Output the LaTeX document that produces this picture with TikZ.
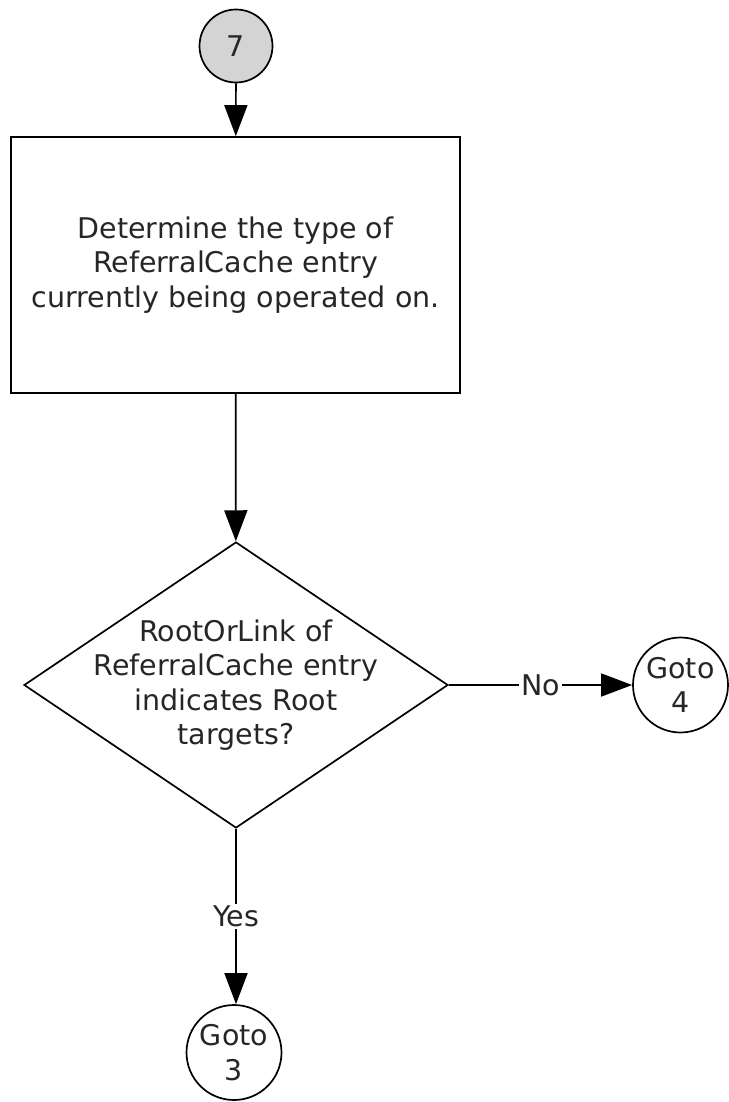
\documentclass[tikz,border=0pt]{standalone}
\usepackage{fontspec}
\setmainfont{DejaVu Sans}
\usepackage{tikz}
\usetikzlibrary{shapes.geometric}
\usetikzlibrary{arrows.meta}

\tikzset{
    flowline/.style = {line width=1.7pt, -{Triangle[length=31pt,width=23pt]}},
    procbox/.style = {draw, line width=1.7pt, minimum width=449pt, minimum height=256pt},
    decide/.style = {draw, diamond, line width=1.7pt, minimum width=424pt, minimum height=286pt, inner sep=0pt},
    connector/.style = {draw, circle, line width=1.7pt, inner sep=0pt},
    flowtext/.style = {align=center, text=black!85, font=\fontsize{28.5}{34.5}\selectfont},
    lbl/.style = {fill=white, inner sep=2pt, text=black!85, font=\fontsize{28.5}{34.5}\selectfont}
}

\begin{document}
\begin{tikzpicture}[x=1pt, y=-1pt]
    \useasboundingbox (0,0) rectangle (728,1102);
    % start marker
    \node [connector, flowtext, fill=black!17, minimum size=73pt] (start) at (236,46) {7};
    \node [procbox] (determine) at (235.5,265) {};
    \node [flowtext] at (determine) {Determine the type of\\ReferralCache entry\\currently being operated on.};
    \node [decide] (isroot) at (236,685) {};
    \node [flowtext] at (isroot) {RootOrLink of\\ReferralCache entry\\indicates Root\\targets?};
    % off-page connectors
    \node [connector, flowtext, minimum size=95pt] (goto4) at (680.5,685) {Goto\\4};
    \node [connector, flowtext, minimum size=95pt] (goto3) at (234,1052.5) {Goto\\3};

    \draw [flowline] (start) -- (determine);
    \draw [flowline] (determine) -- (isroot);
    \draw [flowline] (isroot.east) -- node [lbl] {No} (goto4);
    \draw [flowline] (isroot.south) -- node [lbl] {Yes} (isroot.south |- goto3.north);
\end{tikzpicture}
\end{document}
